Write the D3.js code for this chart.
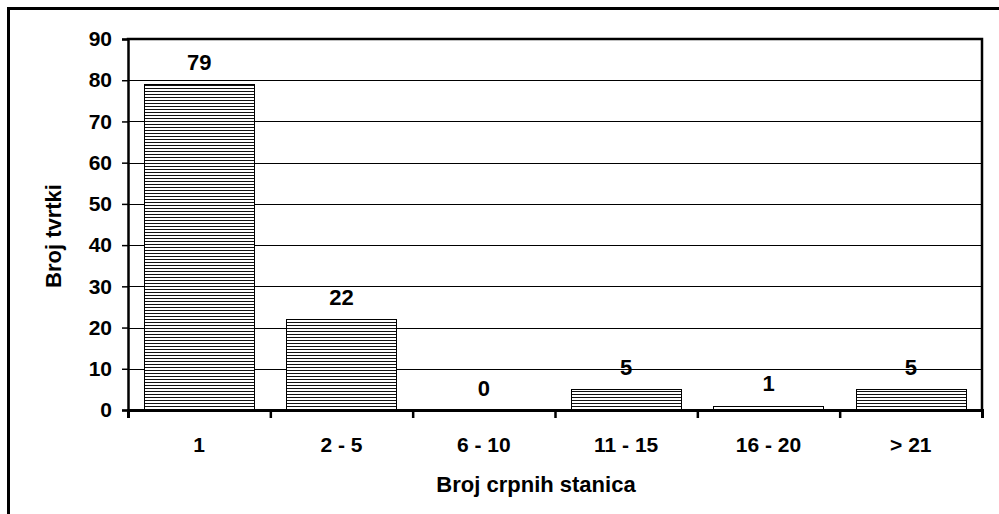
<!DOCTYPE html>
<html>
<head>
<meta charset="utf-8">
<script src="https://cdn.jsdelivr.net/npm/d3@7"></script>
<style>
  html, body { margin: 0; padding: 0; background: #fff; overflow: hidden; }
  svg { display: block; font-family: "Liberation Sans", Arial, sans-serif; font-weight: bold; }
</style>
</head>
<body>
<div id="chart"></div>
<script>
// Data
const categories = ["1", "2 - 5", "6 - 10", "11 - 15", "16 - 20", "> 21"];
const counts = [79, 22, 0, 5, 1, 5];
const yTicks = [0, 10, 20, 30, 40, 50, 60, 70, 80, 90];
const xLabelText = "Broj crpnih stanica";
const yLabelText = "Broj tvrtki";

const W = 999, H = 514;
let margin = { top: 39, left: 128, right: 17, bottom: 104 },
  width = W - margin.left - margin.right,
  height = H - margin.top - margin.bottom;

const data = categories.map((c, i) => ({ cat: c, value: counts[i] }));

let svg = d3.select("#chart")
  .append("svg")
    .attr("width", W)
    .attr("height", H);

// outer chart border (runs off the right and bottom)
svg.append("rect")
  .attr("x", 8.5).attr("y", 8.5)
  .attr("width", W + 10).attr("height", H + 10)
  .attr("fill", "none")
  .attr("stroke", "#000")
  .attr("stroke-width", 3);

// horizontal line fill for the bars
let defs = svg.append("defs");
let pat = defs.append("pattern")
  .attr("id", "hlines")
  .attr("patternUnits", "userSpaceOnUse")
  .attr("width", 6).attr("height", 3);
pat.append("rect").attr("width", 6).attr("height", 3).attr("fill", "#fff");
pat.append("rect").attr("y", 1).attr("width", 6).attr("height", 1).attr("fill", "#111");

let g = svg.append("g")
  .attr("transform", "translate(" + margin.left + "," + margin.top + ")");

// scales
let xScale = d3.scaleBand()
  .domain(categories)
  .range([0, width])
  .paddingInner(0.225)
  .paddingOuter(0.1125);

let yScale = d3.scaleLinear()
  .domain([0, 90])
  .range([height, 0]);

// gridlines
g.append("g")
  .selectAll("line")
  .data(yTicks.filter(d => d > 0))
  .enter().append("line")
    .attr("x1", 0).attr("x2", width)
    .attr("y1", d => Math.round(yScale(d)) + 0.5)
    .attr("y2", d => Math.round(yScale(d)) + 0.5)
    .attr("stroke", "#000")
    .attr("stroke-width", 1);

// bars
g.append("g")
  .selectAll("rect")
  .data(data.filter(d => d.value > 0))
  .enter().append("rect")
    .attr("x", d => Math.round(xScale(d.cat)) + 0.5)
    .attr("y", d => Math.round(yScale(d.value)) + 0.5)
    .attr("width", Math.round(xScale.bandwidth()))
    .attr("height", d => height - Math.round(yScale(d.value)))
    .attr("fill", "url(#hlines)")
    .attr("stroke", "#000")
    .attr("stroke-width", 1);

// plot frame (top and right)
g.append("path")
  .attr("d", "M0,1V0H" + width + "V" + height)
  .attr("fill", "none")
  .attr("stroke", "#000")
  .attr("stroke-width", 2.5);

// Y axis
let yAxis = g.append("g")
  .call(d3.axisLeft(yScale).tickValues(yTicks).tickSize(6).tickPadding(10));
yAxis.select(".domain").attr("stroke-width", 2.5);
yAxis.selectAll(".tick line").attr("stroke-width", 1.5);
yAxis.selectAll(".tick text")
  .attr("font-size", 21)
  .attr("font-family", "Liberation Sans, Arial, sans-serif")
  .attr("font-weight", "bold")
  .attr("fill", "#000");

// X axis: tick marks at category boundaries
let xEdges = d3.scaleLinear().domain([0, categories.length]).range([0, width]);
let xAxis = g.append("g")
  .attr("transform", "translate(0," + height + ")")
  .call(d3.axisBottom(xEdges).ticks(categories.length).tickSize(8).tickFormat(""));
xAxis.select(".domain").attr("stroke-width", 3);
xAxis.selectAll(".tick line").attr("stroke-width", 2.5);

// X category labels
g.append("g")
  .selectAll("text")
  .data(categories)
  .enter().append("text")
    .attr("x", d => xScale(d) + xScale.bandwidth() / 2)
    .attr("y", height + 42)
    .attr("text-anchor", "middle")
    .attr("font-size", 21)
    .text(d => d);

// value labels
g.append("g")
  .selectAll("text")
  .data(data)
  .enter().append("text")
    .attr("x", d => xScale(d.cat) + xScale.bandwidth() / 2)
    .attr("y", d => yScale(d.value) - 14.5)
    .attr("text-anchor", "middle")
    .attr("font-size", 22)
    .text(d => d.value);

// axis titles
svg.append("text")
  .attr("x", 536)
  .attr("y", 492)
  .attr("text-anchor", "middle")
  .attr("font-size", 22)
  .text(xLabelText);

svg.append("text")
  .attr("transform", "translate(61,236) rotate(-90)")
  .attr("text-anchor", "middle")
  .attr("font-size", 22)
  .text(yLabelText);
</script>
</body>
</html>
